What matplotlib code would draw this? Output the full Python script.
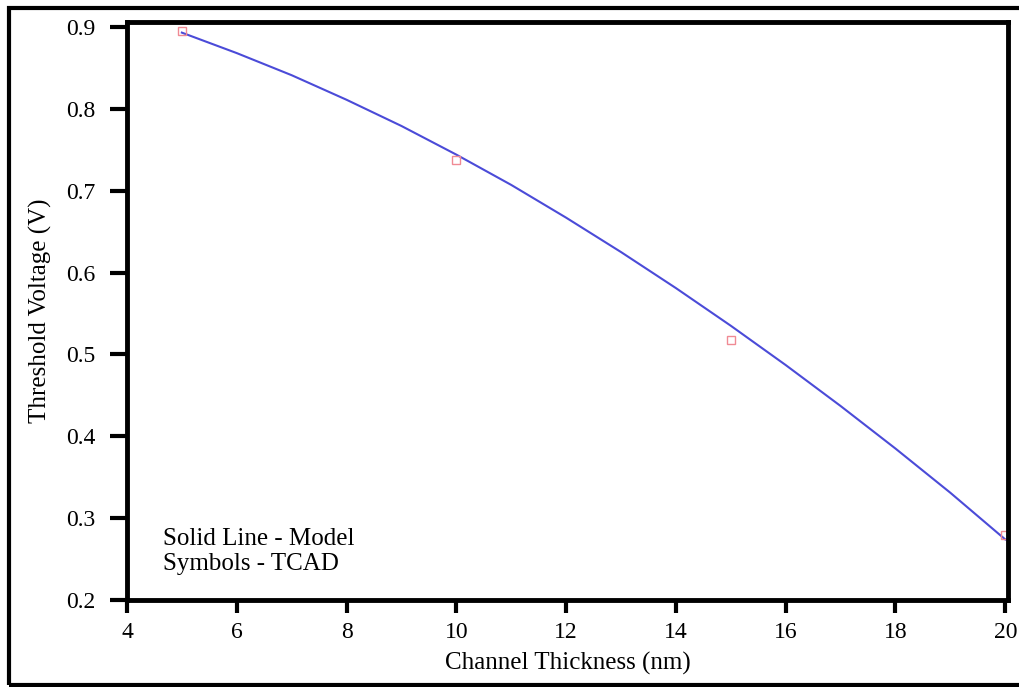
import numpy as np
import matplotlib
matplotlib.use('Agg')
import matplotlib.pyplot as plt
from matplotlib.patches import Rectangle

plt.rcParams['font.family'] = ['Liberation Serif', 'DejaVu Serif']

# Model curve (solid line)
model_thickness = [5, 6, 7, 8, 9, 10, 11, 12, 13, 14, 15, 16, 17, 18, 19, 20]
model_vth = [0.893, 0.868, 0.841, 0.811, 0.779, 0.744, 0.707, 0.667, 0.625, 0.581,
             0.535, 0.487, 0.437, 0.385, 0.331, 0.274]
# TCAD symbols
tcad_thickness = [5, 10, 15, 20]
tcad_vth = [0.895, 0.738, 0.518, 0.279]

x_ticks = [4, 6, 8, 10, 12, 14, 16, 18, 20]
y_ticks = [0.2, 0.3, 0.4, 0.5, 0.6, 0.7, 0.8, 0.9]

fig = plt.figure(figsize=(10.19, 6.87), dpi=100)
ax = fig.add_axes([0.1246, 0.1266, 0.8646, 0.8414])

ax.plot(model_thickness, model_vth, color='#4b4bd8', linewidth=1.5)
ax.plot(tcad_thickness, tcad_vth, linestyle='none', marker='s', markersize=6,
        markerfacecolor='none', markeredgecolor='#f08a94', markeredgewidth=1.0)

ax.set_xlim(4, 20.05)
ax.set_ylim(0.2, 0.906)
ax.set_xticks(x_ticks)
ax.set_yticks(y_ticks)
ax.set_yticklabels(['0.2', '0.3', '0.4', '0.5', '0.6', '0.7', '0.8', '0.9'])

for s in ax.spines.values():
    s.set_linewidth(3.5)
ax.tick_params(axis='x', direction='out', length=9, width=3, pad=7, labelsize=17)
ax.tick_params(axis='y', direction='out', length=12, width=3, pad=11, labelsize=17)

ax.set_xlabel('Channel Thickness (nm)', fontsize=18, labelpad=6)
ax.set_ylabel('Threshold Voltage (V)', fontsize=18, labelpad=10)

ax.text(0.041, 0.084, 'Solid Line - Model\nSymbols - TCAD', transform=ax.transAxes,
        fontsize=18, va='center', ha='left', linespacing=1.2)

# outer frame around the whole picture
fig.patches.append(Rectangle((0.009, 0.003), 1.2, 0.985, transform=fig.transFigure,
                             fill=False, edgecolor='black', linewidth=3, clip_on=False))

fig.savefig('out.png', dpi=100)
